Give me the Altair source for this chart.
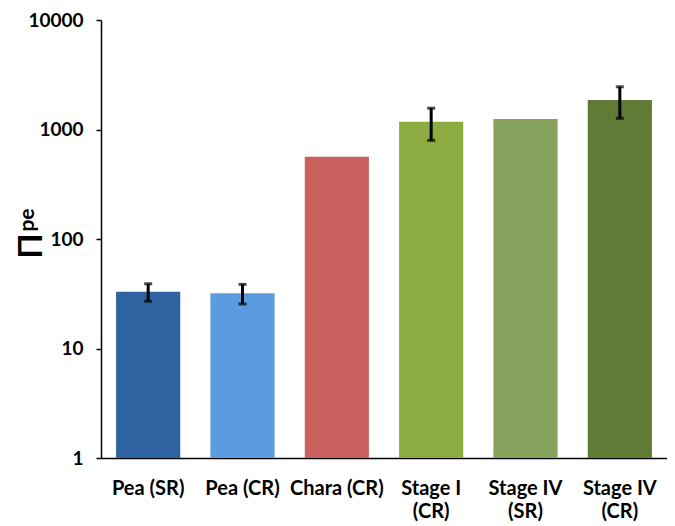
import altair as alt
import pandas as pd

categories = ["Pea (SR)", "Pea (CR)", "Chara (CR)", "Stage I (CR)", "Stage IV (SR)", "Stage IV (CR)"]
values = [33, 32, 565, 1180, 1245, 1860]
errors = [6, 6.5, None, 385, None, 595]
colors = ["#2f62a0", "#5c9be0", "#c9605d", "#8cab40", "#86a25c", "#5f7b35"]
y_ticks = [1, 10, 100, 1000, 10000]

df = pd.DataFrame({"cat": categories, "val": values, "err": errors, "color": colors})

FONT = "Lato, DejaVu Sans"

label_expr = ("indexof(datum.label, 'Stage') == 0 ? "
              "[slice(datum.label, 0, indexof(datum.label, ' (')), "
              "slice(datum.label, indexof(datum.label, ' (') + 1)] : datum.label")

x_enc = alt.X("cat:N", sort=categories,
              scale=alt.Scale(paddingInner=0.32, paddingOuter=0.16),
              axis=alt.Axis(title=None, labelAngle=0, ticks=False, labelPadding=20,
                            labelFont=FONT, labelFontSize=20, labelFontWeight="bold",
                            labelColor="black", labelExpr=label_expr, labelLineHeight=23,
                            domainColor="black", domainWidth=1.5, labelBaseline="top"))

y_scale = alt.Scale(type="log", domain=[1, 10000])

bars = alt.Chart(df).mark_bar().encode(
    x=x_enc,
    y=alt.Y("val:Q", scale=y_scale,
            axis=alt.Axis(title=None, values=y_ticks, format="d", grid=False,
                          labelFont=FONT, labelFontSize=19, labelFontWeight="bold",
                          labelColor="black", domainColor="black", domainWidth=1.5,
                          tickColor="black", tickSize=5, tickWidth=1.5, labelPadding=13)),
    y2=alt.datum(1),
    color=alt.Color("color:N", scale=None),
)

err_base = alt.Chart(df).transform_filter("isValid(datum.err)").transform_calculate(
    lo="datum.val - datum.err", hi="datum.val + datum.err")

x_plain = alt.X("cat:N", sort=categories)
rules = err_base.mark_rule(color="black", strokeWidth=3).encode(
    x=x_plain, y=alt.Y("lo:Q", scale=y_scale), y2="hi:Q")
cap_lo = err_base.mark_tick(color="black", size=8, thickness=3).encode(
    x=x_plain, y=alt.Y("lo:Q", scale=y_scale))
cap_hi = err_base.mark_tick(color="black", size=8, thickness=3).encode(
    x=x_plain, y=alt.Y("hi:Q", scale=y_scale))

title_main = alt.Chart(pd.DataFrame({"t": ["Π"]})).mark_text(
    font=FONT, fontSize=33, fontWeight="bold", angle=270, align="center",
    baseline="alphabetic", color="black").encode(
    text="t:N", x=alt.value(-59), y=alt.value(226))
title_sub = alt.Chart(pd.DataFrame({"t": ["pe"]})).mark_text(
    font=FONT, fontSize=21, fontWeight="bold", angle=270, align="center",
    baseline="alphabetic", color="black").encode(
    text="t:N", x=alt.value(-67), y=alt.value(200))

chart = alt.layer(bars, rules, cap_lo, cap_hi, title_main, title_sub).properties(
    width=566, height=438,
    background="white",
    autosize=alt.AutoSizeParams(type="none"),
    padding={"left": 93, "top": 12, "right": 0, "bottom": 68},
).configure_view(strokeWidth=0, stroke="transparent").configure_axis(grid=False)

chart.save("out.html", embed_options={"renderer": "svg", "actions": False})
